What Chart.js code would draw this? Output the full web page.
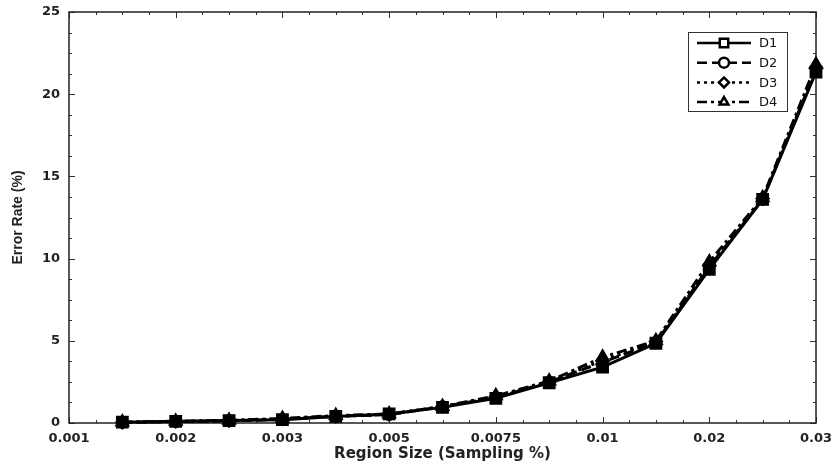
<!DOCTYPE html>
<html>
<head>
<meta charset="utf-8">
<script src="https://cdn.jsdelivr.net/npm/chart.js@4.4.1/dist/chart.umd.min.js"></script>
<style>
html, body { margin: 0; padding: 0; background: #fff; }
</style>
</head>
<body>
<canvas id="errChart" width="833" height="464"></canvas>
<script>
// Axis tick labels (evenly spaced, every 2 positions)
const xTickLabels = ['0.001', '0.002', '0.003', '0.005', '0.0075', '0.01', '0.02', '0.03'];
// Sampled region sizes, placed at positions 1..14
const sampleSizes = ['0.0015', '0.002', '0.0025', '0.003', '0.004', '0.005', '0.00625',
                     '0.0075', '0.00875', '0.01', '0.015', '0.02', '0.025', '0.03'];
const yTicks = [0, 5, 10, 15, 20, 25];

// Error rate (%) per data set
const d1 = [0.05, 0.10, 0.15, 0.20, 0.40, 0.55, 0.95, 1.50, 2.45, 3.40, 4.85, 9.35, 13.60, 21.35];
const d2 = [0.03, 0.08, 0.12, 0.22, 0.42, 0.50, 1.00, 1.55, 2.50, 3.70, 4.90, 9.50, 13.60, 21.50];
const d3 = [0.04, 0.09, 0.14, 0.25, 0.40, 0.52, 1.00, 1.60, 2.50, 3.80, 4.95, 9.60, 13.65, 21.60];
const d4 = [0.06, 0.10, 0.16, 0.28, 0.45, 0.55, 1.00, 1.65, 2.55, 4.00, 5.00, 9.80, 13.70, 21.80];

function toPoints(values) {
    return values.map((v, i) => ({ x: i + 1, y: v, size: sampleSizes[i] }));
}

function makeSet(label, values, dash, style, radius, order) {
    return {
        label: label,
        data: toPoints(values),
        order: order,
        borderColor: '#000',
        backgroundColor: '#000',
        borderWidth: 3,
        borderDash: dash,
        pointStyle: style,
        pointRadius: radius,
        pointBorderWidth: 1.5,
        pointBackgroundColor: '#000',
        pointBorderColor: '#000',
        tension: 0,
        clip: false
    };
}

// frame with inward major/minor ticks on all four sides
const framePlugin = {
    id: 'frame',
    beforeDatasetsDraw(chart) {
        const { ctx, chartArea: a, scales } = chart;
        const xs = scales.x, ys = scales.y;
        ctx.save();
        ctx.strokeStyle = '#333';
        ctx.lineWidth = 1;
        // minor ticks
        for (let v = 0; v <= 14.001; v += 0.5) {
            const px = Math.round(xs.getPixelForValue(v)) + 0.5;
            const len = (Math.abs(v % 2) < 0.01) ? 6 : 3;
            ctx.beginPath();
            ctx.moveTo(px, a.top); ctx.lineTo(px, a.top + len);
            ctx.moveTo(px, a.bottom); ctx.lineTo(px, a.bottom - len);
            ctx.stroke();
        }
        for (let v = 0; v <= 25.001; v += 1.25) {
            const py = Math.round(ys.getPixelForValue(v)) + 0.5;
            const len = (Math.abs(v % 5) < 0.01) ? 6 : 3;
            ctx.beginPath();
            ctx.moveTo(a.left, py); ctx.lineTo(a.left + len, py);
            ctx.moveTo(a.right, py); ctx.lineTo(a.right - len, py);
            ctx.stroke();
        }
        ctx.lineWidth = 1.5;
        ctx.strokeStyle = '#222';
        ctx.strokeRect(a.left, a.top, a.right - a.left, a.bottom - a.top);
        ctx.restore();
    }
};

// boxed legend with line sample and open marker
const legendPlugin = {
    id: 'boxLegend',
    afterDraw(chart) {
        const ctx = chart.ctx;
        const bx = 688, by = 32, bw = 99, bh = 79;
        ctx.save();
        ctx.fillStyle = '#fff';
        ctx.fillRect(bx, by, bw, bh);
        ctx.strokeStyle = '#333';
        ctx.lineWidth = 1;
        ctx.strokeRect(bx + 0.5, by + 0.5, bw, bh);
        chart.data.datasets.forEach((ds, i) => {
            const y = by + 11 + i * 19.7;
            ctx.strokeStyle = '#000';
            ctx.lineWidth = 2.5;
            ctx.setLineDash(ds.borderDash);
            ctx.beginPath();
            ctx.moveTo(bx + 9, y);
            ctx.lineTo(bx + 63, y);
            ctx.stroke();
            ctx.setLineDash([]);
            ctx.fillStyle = '#fff';
            ctx.strokeStyle = '#000';
            ctx.lineWidth = 2.5;
            Chart.helpers.drawPoint(ctx, {
                pointStyle: ds.pointStyle, rotation: 0, borderWidth: 2.5,
                radius: ds.pointStyle === 'rect' ? 6 : 5
            }, bx + 36, y);
            ctx.fillStyle = '#111';
            ctx.font = '13px "DejaVu Sans", sans-serif';
            ctx.textBaseline = 'middle';
            ctx.textAlign = 'left';
            ctx.fillText(ds.label, bx + 71, y + 1);
        });
        ctx.restore();
    }
};

const tickFont = { family: '"DejaVu Sans", sans-serif', size: 13, weight: 'bold' };
const xTitleFont = { family: '"DejaVu Sans", sans-serif', size: 15, weight: 'bold' };
const yTitleFont = { family: '"Liberation Sans", Arial, sans-serif', size: 14, weight: 'bold' };

new Chart(document.getElementById('errChart'), {
    type: 'line',
    data: {
        datasets: [
            makeSet('D1', d1, [], 'rect', 8, 0),
            makeSet('D2', d2, [10, 5], 'circle', 5.5, 1),
            makeSet('D3', d3, [3, 4], 'rectRot', 6.5, 2),
            makeSet('D4', d4, [10, 4, 3, 4], 'triangle', 7.5, 3)
        ]
    },
    options: {
        responsive: false,
        animation: false,
        layout: { padding: { top: 12, right: 17, left: 0, bottom: 0 } },
        plugins: {
            legend: { display: false },
            tooltip: { enabled: false }
        },
        scales: {
            x: {
                type: 'linear',
                min: 0,
                max: 14,
                afterBuildTicks: scale => {
                    scale.ticks = xTickLabels.map((l, i) => ({ value: i * 2 }));
                },
                afterFit: scale => {
                    scale.height = 41;
                    scale.paddingLeft = 0;
                    scale.paddingRight = 0;
                },
                ticks: {
                    autoSkip: false,
                    maxRotation: 0,
                    padding: 8,
                    color: '#222',
                    font: tickFont,
                    callback: v => xTickLabels[Math.round(v / 2)]
                },
                grid: { display: false, drawTicks: false },
                border: { display: false },
                title: {
                    display: true,
                    text: 'Region Size (Sampling %)',
                    color: '#222',
                    font: xTitleFont,
                    padding: { top: 0, bottom: 1 }
                }
            },
            y: {
                min: 0,
                max: 25,
                afterBuildTicks: scale => {
                    scale.ticks = yTicks.map(v => ({ value: v }));
                },
                afterFit: scale => {
                    scale.width = 69;
                    scale.paddingTop = 0;
                    scale.paddingBottom = 0;
                },
                ticks: {
                    padding: 9,
                    color: '#222',
                    font: tickFont
                },
                grid: { display: false, drawTicks: false },
                border: { display: false },
                title: {
                    display: true,
                    text: 'Error Rate (%)',
                    color: '#222',
                    font: yTitleFont,
                    padding: { top: 10, bottom: 0 }
                }
            }
        }
    },
    plugins: [framePlugin, legendPlugin]
});
</script>
</body>
</html>
